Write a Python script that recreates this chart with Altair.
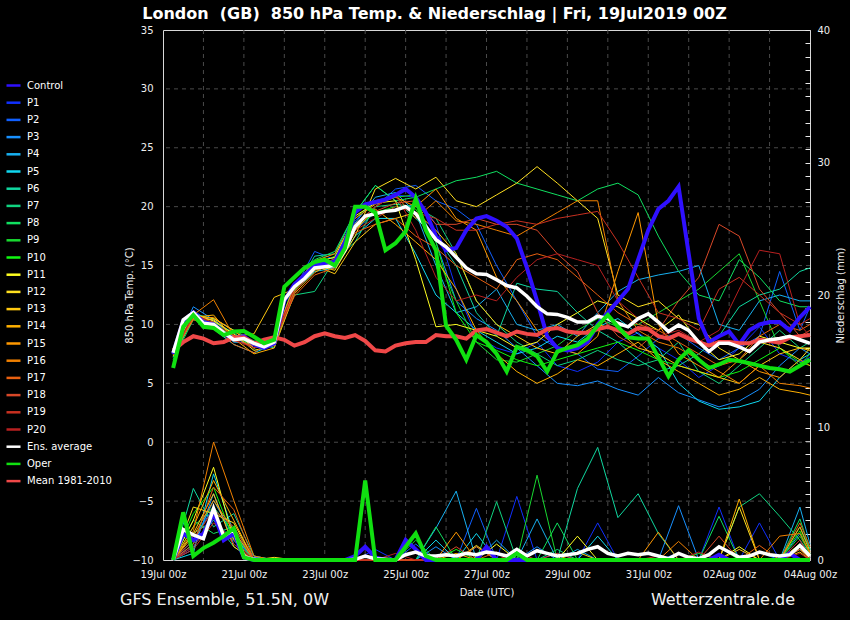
import altair as alt
import pandas as pd

# ---------------- series names / colours ----------------
SERIES = ["Control"] + [f"P{i}" for i in range(1, 21)] + ["Ens. average", "Oper", "Mean 1981-2010"]
COLORS = ["#2f10ff", "#1030ff", "#1060ff", "#1890ff", "#18b0f0", "#10d8f0", "#10d8a0", "#10d480",
          "#10e060", "#18d830", "#10f810", "#ffff20", "#ffe020", "#ffc810", "#ffb000", "#ff9800",
          "#f08000", "#e86010", "#d84828", "#c83020", "#b82020", "#ffffff", "#10e010", "#f04848"]

X_TICK_DAYS = [0, 2, 4, 6, 8, 10, 12, 14, 16]
X_LABELS = ["19Jul 00z", "21Jul 00z", "23Jul 00z", "25Jul 00z", "27Jul 00z",
            "29Jul 00z", "31Jul 00z", "02Aug 00z", "04Aug 00z"]
GRID_DAYS = list(range(1, 16))
GRID_TEMPS = [-5, 0, 5, 10, 15, 20, 25, 30]
TEMP_TICKS = [-10, -5, 0, 5, 10, 15, 20, 25, 30, 35]
PRECIP_TICKS = list(range(0, 41))

# 6-hourly steps (days after 19Jul 00z) for the thick lines
THICK_DAYS = [0.25 * i for i in range(1, 65)]
# 12-hourly steps for the members
MEMBER_DAYS = [0.25 + 0.5 * k for k in range(32)] + [16.0]

# ---------------- thick lines: 850 hPa temperature ----------------
CONTROL_T = [7.5, 10.3, 11.0, 10.2, 10.0, 9.2, 8.8, 9.0,
             8.3, 8.0, 8.4, 12.0, 13.4, 14.2, 15.0, 15.2,
             15.3, 17.0, 19.5, 20.2, 20.4, 20.6, 21.0, 21.5,
             20.8, 19.5, 17.5, 16.3, 16.5, 18.0, 19.0, 19.2,
             18.8, 18.3, 17.3, 14.8, 12.0, 9.0, 8.0, 7.8,
             8.0, 8.5, 10.0, 11.0, 12.0, 13.0, 15.5, 18.0,
             19.8, 20.5, 21.7, 16.0, 10.5, 8.5, 9.0, 9.4,
             8.3, 9.5, 10.0, 10.2, 10.2, 9.5, 10.6, 11.5]
ENS_T = [7.6, 10.4, 11.0, 10.1, 10.0, 9.3, 8.7, 8.8,
         8.4, 8.1, 8.5, 12.1, 13.2, 13.9, 14.8, 14.9,
         15.0, 16.3, 18.3, 19.2, 19.4, 19.6, 19.7, 20.0,
         19.4, 18.3, 17.2, 16.6, 15.7, 14.8, 14.3, 14.25,
         13.8, 13.3, 13.1, 12.4, 11.5, 10.9, 10.85, 10.6,
         10.2, 10.2, 10.7, 10.5, 10.1, 9.8, 10.5, 10.9,
         10.2, 9.4, 9.95, 9.5, 8.5, 7.7, 8.4, 8.4,
         8.1, 7.7, 8.5, 8.7, 8.8, 9.0, 8.7, 8.4]
OPER_T = [6.3, 9.8, 10.8, 9.8, 9.7, 9.1, 9.4, 9.45,
          8.95, 8.4, 8.7, 13.2, 14.0, 14.8, 15.3, 15.5,
          15.0, 16.5, 20.0, 20.0, 19.5, 16.3, 16.9, 17.9,
          20.7, 18.0, 16.3, 9.9, 8.7, 7.0, 9.1, 8.5,
          7.5, 6.0, 8.1, 7.8, 7.3, 6.0, 7.7, 8.0,
          8.25, 8.8, 9.9, 10.8, 9.8, 8.9, 8.8, 8.8,
          7.2, 5.6, 7.0, 7.8, 7.0, 6.3, 6.6, 7.0,
          6.9, 6.7, 6.5, 6.3, 6.2, 6.0, 6.5, 7.0]
MEAN_T = [7.8, 8.5, 9.0, 8.8, 8.4, 8.5, 8.9, 8.9,
          8.4, 8.7, 8.9, 8.7, 8.2, 8.5, 9.0, 9.25,
          9.0, 8.85, 9.1, 8.6, 7.8, 7.7, 8.2, 8.4,
          8.5, 8.5, 9.1, 9.0, 9.0, 8.8, 9.5, 9.6,
          9.3, 9.0, 9.4, 9.2, 9.1, 9.6, 9.7, 9.4,
          9.3, 9.3, 9.6, 9.8, 9.5, 9.2, 9.7, 9.6,
          9.0, 8.8, 9.2, 8.8, 8.5, 8.2, 8.5, 8.5,
          8.4, 8.4, 8.7, 8.6, 8.45, 8.9, 9.0, 9.1]

# ---------------- thick lines: precipitation (mm) ----------------
CONTROL_P = [0, 2.0, 1.5, 2.0, 3.5, 1.5, 2.0, 0.2,
             0, 0, 0, 0, 0, 0, 0, 0,
             0, 0, 0.3, 1.0, 0.2, 0, 0, 1.5,
             0.8, 0, 0, 0, 0, 0, 0, 1.0,
             0, 0, 0, 0, 0, 0, 0, 0,
             0, 0, 0, 0, 0, 0, 0, 0,
             0, 0, 0, 0, 0, 0, 0.4, 0,
             0, 0, 0, 0, 0, 0.5, 0, 0]
OPER_P = [0, 3.6, 0.3, 0.9, 1.3, 1.8, 2.4, 0.2,
          0, 0, 0, 0, 0, 0, 0, 0,
          0, 0, 0, 6.0, 0, 0, 0, 1.0,
          2.0, 0.3, 0, 0, 0, 0, 0, 0,
          0, 0, 0.5, 0, 0, 0, 0, 0,
          0, 0, 0, 0, 0, 0, 0, 0,
          0, 0, 0, 0, 0, 0, 0, 0,
          0, 0, 0, 0, 0, 0, 0, 0]
ENS_P = [0, 2.3, 1.9, 1.6, 3.9, 1.8, 2.3, 0.25,
         0.05, 0, 0, 0, 0, 0, 0, 0,
         0, 0, 0.05, 0.3, 0.1, 0.05, 0, 0.4,
         0.6, 0.3, 0.3, 0.4, 0.3, 0.5, 0.4, 0.6,
         0.5, 0.3, 0.8, 0.3, 0.7, 0.5, 0.3, 0.4,
         0.5, 0.8, 1.0, 0.5, 0.3, 0.5, 0.4, 0.5,
         0.3, 0.1, 0.5, 0.2, 0.1, 0.4, 1.0, 0.6,
         0.2, 0.3, 0.6, 0.4, 0.3, 0.4, 1.1, 0.3]

# ---------------- members: 850 hPa temperature ----------------
P1_T = [7.5, 11.2, 10.0, 8.6, 8.2, 8.6, 13.4, 15.0, 15.3, 18.8, 20.5, 21.0, 20.8, 18.5, 13.0, 9.0, 8.0, 7.5, 8.5, 6.5, 6.0, 6.8, 8.5, 9.3, 8.0, 7.0, 5.5, 6.5, 8.0, 9.8, 7.5, 6.8, 7.2]
P2_T = [7.4, 11.0, 10.3, 8.9, 8.0, 8.3, 13.0, 16.2, 15.5, 18.5, 20.0, 21.5, 21.8, 20.5, 19.8, 18.5, 15.0, 12.0, 9.0, 8.0, 7.5, 6.2, 6.0, 7.3, 8.8, 9.2, 8.0, 7.0, 8.0, 9.0, 14.5, 9.5, 11.5]
P3_T = [7.8, 11.5, 10.4, 9.2, 8.0, 8.8, 13.3, 15.2, 15.0, 18.0, 19.5, 19.8, 20.2, 17.0, 12.0, 10.5, 9.5, 8.0, 6.5, 5.0, 4.8, 5.2, 4.5, 4.0, 5.5, 4.2, 3.6, 3.0, 3.5, 4.5, 6.5, 8.0, 7.5]
P4_T = [7.6, 10.8, 9.8, 8.5, 8.4, 8.9, 13.0, 14.9, 15.2, 18.6, 20.8, 21.2, 19.5, 15.0, 11.0, 11.5, 13.0, 10.0, 9.5, 10.0, 9.0, 11.0, 12.8, 13.8, 14.2, 14.5, 15.0, 10.0, 9.5, 12.0, 12.5, 12.0, 12.0]
P5_T = [7.3, 10.5, 9.6, 8.3, 7.6, 8.3, 12.8, 14.5, 14.8, 17.5, 19.0, 19.0, 16.0, 12.5, 11.0, 9.5, 8.5, 7.5, 8.0, 9.0, 8.5, 9.8, 10.5, 9.2, 8.0, 5.0, 3.5, 2.8, 3.0, 3.5, 5.5, 7.0, 7.5]
P6_T = [7.2, 10.6, 10.0, 9.0, 8.5, 8.0, 12.8, 15.8, 16.0, 19.5, 21.8, 20.5, 19.0, 17.5, 15.0, 11.0, 9.0, 13.5, 13.0, 12.8, 11.0, 9.5, 8.5, 7.0, 6.0, 6.5, 7.5, 9.0, 11.5, 12.5, 13.0, 14.5, 14.8]
P7_T = [7.5, 10.9, 10.5, 9.5, 8.6, 8.3, 12.5, 12.8, 15.5, 17.0, 20.0, 20.2, 20.0, 19.0, 16.0, 12.0, 10.0, 8.5, 7.5, 6.5, 7.0, 7.8, 7.0, 6.5, 7.0, 8.5, 6.0, 5.0, 6.5, 8.0, 9.5, 8.0, 8.5]
P8_T = [7.0, 10.4, 10.2, 9.3, 8.0, 8.5, 13.0, 15.5, 16.2, 19.5, 21.8, 20.5, 20.8, 21.5, 22.2, 22.5, 23.0, 22.0, 21.5, 21.0, 20.5, 21.5, 22.0, 21.0, 17.5, 14.5, 12.5, 12.0, 15.5, 14.0, 12.0, 11.5, 11.5]
P9_T = [7.7, 10.7, 9.7, 8.8, 8.3, 8.7, 13.5, 15.0, 15.8, 19.0, 20.5, 20.8, 21.0, 16.0, 12.0, 8.5, 7.0, 6.8, 7.5, 8.2, 9.5, 10.5, 9.8, 10.0, 11.0, 12.0, 13.0, 14.5, 16.0, 12.0, 8.0, 6.5, 7.5]
P10_T = [7.4, 10.6, 10.1, 9.0, 8.3, 8.4, 12.9, 14.6, 15.6, 18.2, 19.5, 20.0, 19.8, 17.0, 11.0, 8.5, 7.8, 7.0, 6.5, 7.0, 7.5, 8.0, 8.5, 7.8, 7.0, 6.5, 6.0, 5.5, 6.0, 7.0, 8.0, 6.8, 6.5]
P11_T = [7.8, 10.9, 10.3, 9.2, 7.8, 8.2, 13.1, 15.3, 15.7, 19.2, 20.3, 20.5, 15.5, 9.8, 10.0, 9.5, 9.0, 8.0, 8.5, 10.0, 11.0, 12.0, 11.5, 10.5, 9.5, 10.8, 8.5, 7.0, 7.5, 9.0, 8.5, 8.0, 8.0]
P12_T = [7.6, 10.8, 10.5, 9.5, 8.0, 8.6, 13.2, 15.0, 14.6, 17.5, 21.5, 22.4, 21.5, 22.5, 20.5, 20.0, 21.0, 22.0, 23.4, 22.0, 20.5, 19.0, 12.5, 11.5, 12.0, 10.5, 10.0, 8.0, 7.0, 8.5, 8.0, 7.0, 8.0]
P13_T = [7.5, 10.5, 10.4, 9.0, 9.2, 12.3, 13.0, 15.0, 14.3, 17.0, 18.5, 19.0, 19.5, 18.0, 16.0, 12.0, 10.0, 9.0, 8.0, 7.5, 9.0, 10.0, 9.5, 8.0, 7.5, 6.5, 6.0, 5.5, 5.0, 6.5, 7.5, 8.0, 7.8]
P14_T = [7.3, 10.6, 10.8, 8.8, 7.5, 8.0, 12.6, 14.4, 15.4, 18.0, 19.8, 18.5, 17.0, 15.5, 13.0, 9.5, 7.5, 6.0, 5.0, 5.8, 7.0, 6.5, 7.5, 8.5, 7.0, 6.0, 5.0, 4.0, 4.5, 5.5, 4.5, 4.2, 4.0]
P15_T = [7.7, 10.5, 10.6, 9.4, 8.5, 8.8, 13.3, 15.4, 16.0, 19.0, 20.2, 20.8, 20.0, 21.5, 19.0, 18.0, 14.0, 12.0, 9.5, 8.0, 7.5, 9.0, 14.5, 19.5, 10.0, 7.5, 6.5, 5.5, 7.0, 6.0, 5.5, 7.0, 6.5]
P16_T = [7.5, 10.8, 12.1, 9.0, 8.0, 8.5, 12.8, 14.6, 15.0, 18.5, 20.0, 21.0, 19.0, 20.5, 18.8, 18.5, 18.0, 17.5, 18.5, 19.5, 20.5, 20.5, 12.0, 9.5, 8.5, 8.0, 7.0, 6.0, 5.0, 6.5, 5.0, 4.8, 4.6]
P17_T = [7.6, 10.4, 9.8, 8.3, 7.6, 8.8, 12.4, 14.2, 14.8, 17.8, 18.5, 19.0, 17.5, 16.5, 15.0, 14.0, 13.0, 15.5, 16.0, 15.5, 14.0, 12.5, 11.0, 10.0, 9.5, 8.5, 7.5, 6.5, 7.0, 9.0, 10.0, 9.5, 10.0]
P18_T = [7.4, 10.7, 10.2, 8.6, 8.2, 8.9, 13.0, 14.7, 15.4, 18.4, 19.6, 20.3, 20.5, 18.5, 18.5, 19.0, 18.5, 18.5, 18.0, 16.0, 14.5, 11.0, 9.0, 8.0, 9.5, 12.0, 14.0, 18.5, 17.5, 13.0, 11.0, 9.0, 9.5]
P19_T = [7.9, 10.6, 10.0, 9.1, 8.4, 8.4, 12.7, 14.8, 15.6, 18.0, 19.0, 20.0, 19.5, 19.0, 18.0, 18.0, 18.5, 18.8, 18.5, 19.0, 19.3, 19.6, 17.0, 14.0, 11.0, 10.5, 9.5, 13.0, 14.0, 12.5, 11.0, 10.0, 10.5]
P20_T = [7.5, 10.9, 10.1, 8.7, 8.0, 8.6, 13.1, 14.9, 15.3, 18.5, 20.0, 21.0, 18.0, 14.0, 12.0, 12.5, 12.0, 14.0, 15.5, 16.0, 15.5, 15.0, 12.0, 10.5, 9.0, 9.5, 8.5, 9.5, 13.0, 16.3, 16.0, 10.0, 9.0]

# ---------------- members: precipitation (mm) ----------------
P1_P = [0, 1.0, 3.0, 1.5, 0.2, 0, 0, 0, 0, 0, 0.8, 0, 0, 0, 0, 1.0, 0, 4.8, 0, 0.5, 0, 2.8, 0, 0, 0, 0, 0, 4.0, 0, 2.8, 0, 1.0, 0.3]
P2_P = [0, 1.5, 4.0, 2.0, 0.3, 0, 0, 0, 0, 0, 0, 0, 1.2, 0, 0, 3.9, 0, 0, 0, 0, 0, 0, 0, 0, 0, 0.5, 0, 0, 0, 0.6, 0, 1.5, 0.2]
P3_P = [0, 0.8, 5.0, 1.2, 0, 0, 0, 0, 0, 0, 0, 0, 0, 1.0, 0, 0, 0, 0, 1.0, 0, 0, 0, 0, 0, 0, 4.1, 0, 0, 0, 0, 0, 2.0, 0.5]
P4_P = [0, 1.2, 4.5, 1.8, 0, 0, 0, 0, 0, 0, 0, 0, 0, 2.4, 5.2, 0, 1.5, 0, 3.1, 0, 0.8, 0, 0, 0, 0, 0, 0, 0, 0, 0, 0, 4.0, 1.2]
P5_P = [0, 0.5, 6.5, 2.0, 0, 0, 0, 0, 0, 0, 0, 0, 0, 1.5, 0, 2.0, 0, 0, 0, 0, 0, 1.8, 0, 0, 0, 0, 0, 0, 0, 0, 0, 0.8, 0.2]
P6_P = [0, 5.4, 2.5, 3.5, 0.3, 0, 0, 0, 0, 0, 0, 0, 0, 0, 0, 0, 0, 0, 0, 0, 5.4, 8.5, 3.2, 5.0, 2.0, 0, 0, 0, 0, 0, 0, 2.5, 0.8]
P7_P = [0, 2.0, 3.0, 1.0, 0, 0, 0, 0, 0, 0, 0, 0, 0, 0, 0, 0, 4.4, 0, 0, 0.8, 0, 0, 0, 0, 0, 0, 0, 0, 4.0, 5.0, 3.3, 1.5, 0.5]
P8_P = [0, 3.0, 2.0, 2.5, 0, 0, 0, 0, 0, 0, 0, 0, 0, 2.5, 0, 0, 0, 0, 0, 2.8, 0, 0, 0, 0, 0, 0, 0, 3.3, 0, 0, 0, 3.1, 0.8]
P9_P = [0, 2.5, 4.0, 2.0, 0, 0, 0, 0, 0, 0, 0, 0, 1.5, 0, 0, 0, 0, 0, 6.4, 0, 0, 0, 0, 0, 0, 0, 0.5, 0, 0, 0, 0, 1.8, 0.5]
P10_P = [0, 3.5, 5.5, 1.5, 0, 0, 0, 0, 0, 0, 0, 0, 0, 0, 0.8, 0, 0, 0, 0, 0, 0, 0, 0, 0, 0, 0, 0, 1.0, 0, 0, 0, 2.2, 0.4]
P11_P = [0, 3.0, 7.0, 1.5, 0, 0, 0, 0, 0, 0, 0, 0, 0, 0, 0, 0, 1.2, 0, 0, 0, 1.8, 0, 0, 0, 0, 0, 0, 0, 1.0, 0, 0, 0.8, 0.2]
P12_P = [0, 4.0, 3.5, 2.8, 0, 0.2, 0, 0, 0, 0, 0, 0, 0, 0, 0, 1.1, 0, 0, 0, 0, 0, 0, 0, 0, 0, 0, 0, 0, 4.0, 0, 0, 1.2, 0.3]
P13_P = [0, 2.0, 5.0, 1.0, 0, 0, 0, 0, 0, 0, 0, 0, 0, 0, 0, 0, 0, 0, 0, 0, 0.6, 0, 0, 0, 0, 0, 0, 0, 0.8, 0, 0, 0.6, 0]
P14_P = [0, 2.5, 6.0, 3.0, 0, 0, 0, 0, 0, 0, 0, 0, 0, 0, 0.5, 0, 0, 0, 0, 0, 0, 0, 0, 0, 0, 0, 0, 0, 4.6, 0, 0, 2.5, 0.6]
P15_P = [0, 1.8, 4.5, 2.2, 0, 0, 0, 0, 0, 0, 0, 0, 0, 0, 2.1, 0, 0, 0, 0, 0, 0, 0, 0, 0, 2.1, 0, 0, 0, 0, 0, 0, 1.0, 0]
P16_P = [0, 2.2, 8.9, 4.5, 0.3, 0, 0, 0, 0, 0, 0, 0, 0, 0, 0, 1.0, 0, 0, 0, 0, 0, 0, 0, 0, 0, 1.4, 0, 0, 0, 0, 1.8, 2.0, 0.5]
P17_P = [0, 1.2, 5.5, 3.8, 0, 0, 0, 0, 0, 0, 0, 0, 0, 0, 0, 0, 0.6, 0, 0, 0, 0, 0, 0, 0, 0, 0, 0, 0, 0, 1.1, 0, 2.8, 1.0]
P18_P = [0, 1.5, 3.8, 2.5, 0, 0, 0, 0, 0, 0, 0, 0, 0, 0, 1.0, 0, 0, 0, 0, 0.5, 0, 0, 0, 0, 0, 0, 0, 1.8, 0, 0, 0, 0.8, 0]
P19_P = [0, 0.8, 2.8, 1.5, 0, 0, 0, 0, 0, 0, 0, 0, 0, 0, 0, 0, 0, 0.6, 0, 0, 0, 0, 0, 0, 0.3, 0, 0, 0, 0, 0, 0, 1.5, 0.2]
P20_P = [0, 1.0, 3.2, 1.2, 0, 0, 0, 0, 0, 0, 0, 0.5, 0, 0, 0, 0, 0, 0, 0, 0, 0, 0, 0, 0, 0, 0, 0.6, 0, 0, 0, 0, 0.5, 0]

MEMBER_NAMES = [f"P{i}" for i in range(1, 21)]
MEMBER_T = [P1_T, P2_T, P3_T, P4_T, P5_T, P6_T, P7_T, P8_T, P9_T, P10_T,
            P11_T, P12_T, P13_T, P14_T, P15_T, P16_T, P17_T, P18_T, P19_T, P20_T]
MEMBER_P = [P1_P, P2_P, P3_P, P4_P, P5_P, P6_P, P7_P, P8_P, P9_P, P10_P,
            P11_P, P12_P, P13_P, P14_P, P15_P, P16_P, P17_P, P18_P, P19_P, P20_P]


def frame(name, days, vals, col):
    return pd.DataFrame({"series": name, "day": days[:len(vals)], col: vals[:len(days)]})


members_t_df = pd.concat([frame(n, MEMBER_DAYS, v, "temp") for n, v in zip(MEMBER_NAMES, MEMBER_T)])
members_p_df = pd.concat([frame(n, MEMBER_DAYS, v, "precip") for n, v in zip(MEMBER_NAMES, MEMBER_P)])

# ---------------- encodings ----------------
label_expr = "[" + ",".join(f"'{s}'" for s in X_LABELS) + "][round(datum.value / 2)]"
x_enc = alt.X("day:Q", scale=alt.Scale(domain=[0, 16], nice=False, zero=False),
              axis=alt.Axis(values=X_TICK_DAYS, labelExpr=label_expr, title="Date (UTC)",
                            domain=False, ticks=False, grid=False, labelPadding=9,
                            titlePadding=8, labelFlush=False, labelOverlap=False))
y_temp = alt.Y("temp:Q", scale=alt.Scale(domain=[-10, 35], nice=False, zero=False),
               axis=alt.Axis(values=TEMP_TICKS, title="850 hPa Temp. (°C)", orient="left",
                             domain=False, ticks=False, grid=False, labelPadding=10,
                             titlePadding=-3, labelOverlap=False))
y_prec = alt.Y("precip:Q", scale=alt.Scale(domain=[0, 40], nice=False, zero=False),
               axis=alt.Axis(values=PRECIP_TICKS, orient="right", offset=-5, tickSize=5,
                             tickColor="#e8e8e8", domain=False, grid=False,
                             labelExpr="datum.value % 10 == 0 ? datum.label : ''",
                             labelPadding=7, title="Niederschlag (mm)", titleAngle=270,
                             titlePadding=16, labelOverlap=False))
color_enc = alt.Color("series:N", scale=alt.Scale(domain=SERIES, range=COLORS),
                      legend=alt.Legend(title=None, orient="none", legendX=-158, legendY=47,
                                        symbolType="stroke", symbolSize=196,
                                        symbolStrokeWidth=2.5, labelFontSize=10,
                                        labelColor="white", labelFont="DejaVu Sans",
                                        labelOffset=5, rowPadding=3.2, padding=0,
                                        symbolLimit=30))

grid_v = alt.Chart(pd.DataFrame({"day": GRID_DAYS})).mark_rule(
    color="#4a4a4a", strokeDash=[4, 4], strokeWidth=1).encode(x=x_enc)
grid_h = alt.Chart(pd.DataFrame({"temp": GRID_TEMPS})).mark_rule(
    color="#4a4a4a", strokeDash=[4, 4], strokeWidth=1).encode(y=y_temp)


def tline(df, width):
    return alt.Chart(df).mark_line(strokeWidth=width).encode(x=x_enc, y=y_temp, color=color_enc)


def pline(df, width):
    return alt.Chart(df).mark_line(strokeWidth=width).encode(x=x_enc, y=y_prec, color=color_enc)


temp_layer = alt.layer(
    grid_v, grid_h,
    tline(members_t_df, 1),
    tline(frame("Control", THICK_DAYS, CONTROL_T, "temp"), 4),
    tline(frame("Mean 1981-2010", THICK_DAYS, MEAN_T, "temp"), 4),
    tline(frame("Ens. average", THICK_DAYS, ENS_T, "temp"), 3.5),
    tline(frame("Oper", THICK_DAYS, OPER_T, "temp"), 4),
)
precip_layer = alt.layer(
    pline(members_p_df, 1),
    pline(frame("Control", THICK_DAYS, CONTROL_P, "precip"), 4),
    pline(frame("Ens. average", THICK_DAYS, ENS_P, "precip"), 3.5),
    pline(frame("Oper", THICK_DAYS, OPER_P, "precip"), 4),
)

note_left = alt.Chart(pd.DataFrame({"t": ["GFS Ensemble, 51.5N, 0W"]})).mark_text(
    align="left", baseline="middle", fontSize=16, color="#f0f0f0", font="DejaVu Sans"
).encode(x=alt.value(-43), y=alt.value(570), text="t:N")
note_right = alt.Chart(pd.DataFrame({"t": ["Wetterzentrale.de"]})).mark_text(
    align="right", baseline="middle", fontSize=16, color="#f0f0f0", font="DejaVu Sans"
).encode(x=alt.value(632), y=alt.value(570), text="t:N")

chart = alt.layer(temp_layer, precip_layer, note_left, note_right).resolve_scale(
    y="independent"
).properties(
    width=647, height=530,
    title=alt.Title(text="London\u00a0 (GB)\u00a0 850 hPa Temp. & Niederschlag | Fri, 19Jul2019 00Z",
                    fontSize=16, fontWeight="bold", color="white", font="DejaVu Sans",
                    anchor="middle", dx=-52, offset=3),
    autosize=alt.AutoSizeParams(type="none"),
    padding={"left": 163, "top": 30, "right": 40, "bottom": 60},
).configure(
    background="black", font="DejaVu Sans"
).configure_view(
    stroke="#d8d8d8", strokeWidth=1
).configure_axis(
    labelColor="#eeeeee", titleColor="#eeeeee", labelFont="DejaVu Sans",
    titleFont="DejaVu Sans", labelFontSize=10, titleFontSize=10, titleFontWeight="normal"
)

chart.save("out.html", embed_options={"renderer": "svg", "actions": False})
